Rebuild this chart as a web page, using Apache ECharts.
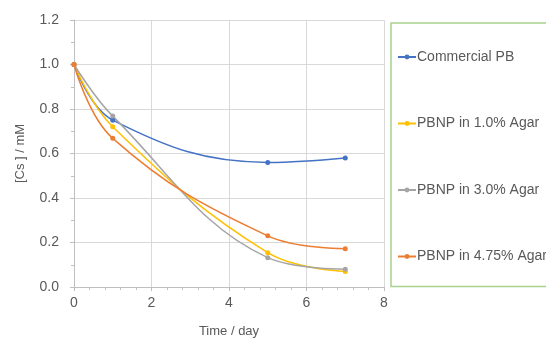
<!DOCTYPE html>
<html><head><meta charset="utf-8">
<script src="https://cdn.jsdelivr.net/npm/echarts@6/dist/echarts.min.js"></script>
<style>html,body{margin:0;padding:0;background:#fff}#c{width:546px;height:338px}</style>
</head><body><div id="c"></div>
<script>
const days = [0, 1, 5, 7];
const commercialPB = [1.0, 0.75, 0.56, 0.58];
const pbnp10 = [1.0, 0.72, 0.154, 0.07];
const pbnp30 = [1.0, 0.768, 0.132, 0.08];
const pbnp475 = [1.0, 0.668, 0.23, 0.172];
const seriesNames = ['Commercial PB', 'PBNP in 1.0% Agar', 'PBNP in 3.0% Agar', 'PBNP in 4.75% Agar'];
const seriesColors = ['#4472C4', '#FFC000', '#A5A5A5', '#ED7D31'];
const allValues = [commercialPB, pbnp10, pbnp30, pbnp475];

const chart = echarts.init(document.getElementById('c'), null, {renderer: 'canvas'});
const txt = '#595959';
chart.setOption({
  animation: false,
  grid: {left: 74, right: 162, top: 20, bottom: 51, containLabel: false, outerBoundsMode: 'none'},
  xAxis: {
    type: 'value', min: 0, max: 8, interval: 2,
    name: 'Time / day', nameLocation: 'middle', nameGap: 38,
    nameTextStyle: {color: txt, fontSize: 13, fontFamily: 'Liberation Sans'},
    axisLine: {show: true, lineStyle: {color: '#BFBFBF'}},
    axisTick: {show: true, length: 4, lineStyle: {color: '#BFBFBF'}},
    minorTick: {show: true, splitNumber: 5, length: 3, lineStyle: {color: '#BFBFBF'}},
    axisLabel: {color: txt, fontSize: 14, fontFamily: 'Liberation Sans', margin: 9},
    splitLine: {show: true, lineStyle: {color: '#D9D9D9'}}
  },
  yAxis: {
    type: 'value', min: 0, max: 1.2, interval: 0.2,
    name: '[Cs ] / mM', nameLocation: 'middle', nameGap: 47, nameRotate: 90,
    nameTextStyle: {color: txt, fontSize: 13, fontFamily: 'Liberation Sans'},
    axisLine: {show: true, lineStyle: {color: '#BFBFBF'}},
    axisTick: {show: true, length: 4, lineStyle: {color: '#BFBFBF'}},
    minorTick: {show: true, splitNumber: 2, length: 3, lineStyle: {color: '#BFBFBF'}},
    axisLabel: {color: txt, fontSize: 14, fontFamily: 'Liberation Sans', margin: 15,
      formatter: v => v.toFixed(1)},
    splitLine: {show: true, lineStyle: {color: '#D9D9D9'}}
  },
  legend: {
    orient: 'vertical', left: 391, top: 23,
    itemGap: 52.5, itemWidth: 18, itemHeight: 6,
    padding: [27, 40, 23, 6],
    borderColor: '#A9D18E', borderWidth: 1.5,
    textStyle: {color: txt, fontSize: 14, fontFamily: 'Liberation Sans', padding: [0, 0, 0, -4]},
    data: seriesNames
  },
  series: seriesNames.map((n, i) => ({
    name: n, type: 'line', smooth: 0.4,
    data: days.map((d, j) => [d, allValues[i][j]]),
    symbol: 'circle', symbolSize: 5,
    lineStyle: {color: seriesColors[i], width: 1.5},
    itemStyle: {color: seriesColors[i]}
  }))
});
</script></body></html>
